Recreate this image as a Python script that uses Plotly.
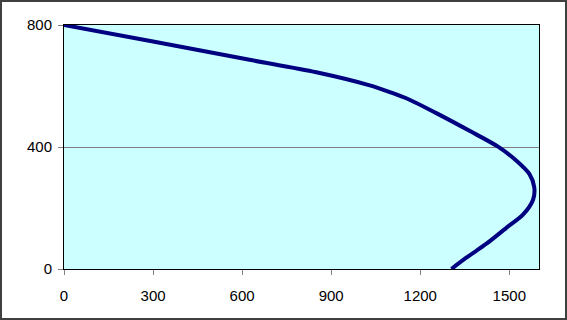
import plotly.graph_objects as go

# Curve (x value, y value)
x_vals = [0, 300, 625, 850, 1030, 1097, 1164, 1254, 1366, 1462, 1524, 1568, 1584, 1580, 1546, 1490, 1423, 1355, 1305]
y_vals = [800, 746, 686, 645, 602, 580, 555, 511, 453, 401, 355, 311, 268, 227, 178, 135, 83, 37, 0]

x_ticks = [0, 300, 600, 900, 1200, 1500]
y_ticks = [0, 400, 800]

W, H = 567, 320
L, R, T, B = 64, 28, 25, 51
pw, ph = W - L - R, H - T - B

fig = go.Figure()
fig.add_trace(go.Scatter(
    x=x_vals, y=y_vals, mode="lines",
    line=dict(color="#000080", width=4, shape="spline", smoothing=0.85),
    hoverinfo="skip", showlegend=False,
))

font = dict(family="Liberation Sans, Arial, sans-serif", size=15, color="black")

fig.update_layout(
    width=W, height=H,
    margin=dict(l=L, r=R, t=T, b=B),
    paper_bgcolor="white",
    plot_bgcolor="#CCFFFF",
    font=font,
    xaxis=dict(
        range=[0, 1600], tickvals=x_ticks, ticktext=[str(v) for v in x_ticks],
        showgrid=False, zeroline=False,
        showline=True, linecolor="black", linewidth=1, mirror=True,
        ticks="outside", ticklen=5, tickcolor="#808080", tickwidth=1,
        ticklabelstandoff=8,
        tickfont=font, fixedrange=True,
    ),
    yaxis=dict(
        range=[0, 800], tickvals=y_ticks, ticktext=[str(v) for v in y_ticks],
        showgrid=True, gridcolor="#808080", gridwidth=1, zeroline=False,
        showline=True, linecolor="black", linewidth=1, mirror=True,
        ticks="outside", ticklen=5, tickcolor="#808080", tickwidth=1,
        ticklabelstandoff=3,
        tickfont=font, fixedrange=True,
    ),
    shapes=[dict(
        type="rect", xref="paper", yref="paper",
        x0=(1 - L) / pw, x1=(W - 1 - L) / pw,
        y0=(H - B - (H - 1)) / ph, y1=(H - B - 1) / ph,
        line=dict(color="#404040", width=2), fillcolor="rgba(0,0,0,0)", layer="above",
    )],
)

fig.write_html(
    "out.html",
    config={"displayModeBar": False, "staticPlot": True},
    post_script="document.body.style.margin='0';document.body.style.overflow='hidden';",
)
